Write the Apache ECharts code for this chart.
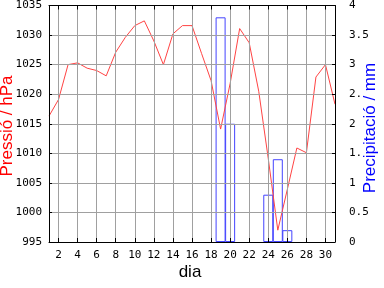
<!DOCTYPE html>
<html>
<head>
<meta charset="utf-8">
<script src="https://cdn.jsdelivr.net/npm/echarts@6/dist/echarts.min.js"></script>
<style>
html,body{margin:0;padding:0;background:#fff;}
#c{width:384px;height:288px;}
</style>
</head>
<body>
<div id="c"></div>
<script>
const days = ['1','2','3','4','5','6','7','8','9','10','11','12','13','14','15','16','17','18','19','20','21','22','23','24','25','26','27','28','29','30','31'];
const pressure = [1016.3,1019.1,1025.0,1025.3,1024.4,1024.0,1023.1,1027.1,1029.6,1031.6,1032.4,1029.0,1025.0,1030.2,1031.6,1031.6,1026.9,1022.3,1014.1,1021.8,1031.1,1028.7,1020.5,1009.1,997.0,1003.9,1010.9,1010.1,1022.9,1025.0,1018.3];
const precip = [null,null,null,null,null,null,null,null,null,null,null,null,null,null,null,null,null,null,3.8,2.0,null,null,null,0.8,1.4,0.2,null,null,null,null,null];
const rightTickLabels = ['0','0.5','1','1.','2','2.','3','3.5','4'];

const chart = echarts.init(document.getElementById('c'), null, {renderer:'canvas'});
const even = (i) => i % 2 === 1;
const labelFont = {fontFamily:'DejaVu Sans Mono', fontSize:11, color:'#000'};
const titleFont = 'Liberation Sans';

chart.setOption({
  animation:false,
  backgroundColor:'#fff',
  grid:{left:49, right:49, top:1, bottom:46, containLabel:false},
  xAxis:[{
    type:'category', data:days, boundaryGap:false, position:'bottom', z:5,
    axisLine:{show:true, lineStyle:{color:'#000', width:1}},
    axisTick:{show:true, inside:true, length:4, interval:even, lineStyle:{color:'#000'}},
    axisLabel:Object.assign({interval:even, margin:8}, labelFont),
    splitLine:{show:true, interval:even, lineStyle:{color:'#a0a0a0', width:1}}
  },{
    type:'category', data:days, boundaryGap:false, position:'top', z:5,
    axisLine:{show:true, lineStyle:{color:'#000', width:1}},
    axisTick:{show:true, inside:true, length:4, interval:even, lineStyle:{color:'#000'}},
    axisLabel:{show:false},
    splitLine:{show:false}
  }],
  yAxis:[{
    type:'value', min:995, max:1035, interval:5, position:'left', z:5,
    axisLine:{show:true, lineStyle:{color:'#000', width:1}},
    axisTick:{show:true, inside:true, length:3, lineStyle:{color:'#000'}},
    axisLabel:Object.assign({margin:7, formatter:(v)=>String(v)}, labelFont),
    splitLine:{show:true, lineStyle:{color:'#a0a0a0', width:1}}
  },{
    type:'value', min:0, max:4, interval:0.5, position:'right', z:5,
    axisLine:{show:true, lineStyle:{color:'#000', width:1}},
    axisTick:{show:true, inside:true, length:3, lineStyle:{color:'#000'}},
    axisLabel:Object.assign({margin:14, formatter:(v)=>rightTickLabels[Math.round(v*2)]}, labelFont),
    splitLine:{show:false}
  }],
  series:[{
    type:'bar', xAxisIndex:0, yAxisIndex:1, data:precip, barWidth:10, z:2,
    itemStyle:{color:'rgba(0,0,0,0)', borderColor:'#4444ff', borderWidth:1}
  },{
    type:'line', xAxisIndex:0, yAxisIndex:0, data:pressure, symbol:'none', z:3,
    lineStyle:{color:'#ff4444', width:1}
  }],
  graphic:[
    {type:'text', x:7, y:126, rotation:Math.PI/2, style:{text:'Pressió / hPa', fill:'#ff0000', font:'17px "'+titleFont+'"', align:'center', verticalAlign:'middle'}},
    {type:'text', x:370, y:128, rotation:Math.PI/2, style:{text:'Precipitació / mm', fill:'#0000ff', font:'17px "'+titleFont+'"', align:'center', verticalAlign:'middle'}},
    {type:'text', x:190, y:272, style:{text:'dia', fill:'#000', font:'17px "'+titleFont+'"', align:'center', verticalAlign:'middle'}}
  ]
});
</script>
</body>
</html>
